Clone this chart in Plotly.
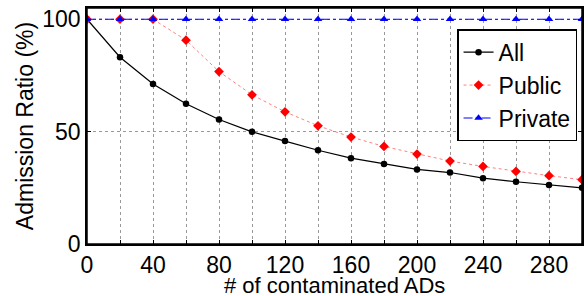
import plotly.graph_objects as go

x_vals = [0, 20, 40, 60, 80, 100, 120, 140, 160, 180, 200, 220, 240, 260, 280, 300]
all_vals = [100, 83.1, 71.2, 62.4, 55.4, 49.9, 45.8, 41.7, 38.2, 35.6, 33.2, 31.8, 29.3, 27.7, 26.2, 25.0]
public_vals = [100, 100, 100, 90.7, 76.7, 66.4, 58.8, 52.6, 47.6, 43.4, 40.0, 36.9, 34.5, 32.3, 30.4, 28.6]
private_vals = [100] * 16
x_ticks = [0, 40, 80, 120, 160, 200, 240, 280]
y_ticks = [0, 50, 100]
x_title = "# of contaminated ADs"
y_title = "Admission Ratio (%)"

FONT = "Liberation Sans, Arial, sans-serif"
FS = 23

fig = go.Figure()
fig.add_trace(go.Scatter(x=x_vals, y=all_vals, name="All", mode="lines+markers",
                         line=dict(color="black", width=1.2),
                         marker=dict(symbol="circle", size=6.5, color="black")))
fig.add_trace(go.Scatter(x=x_vals, y=public_vals, name="Public", mode="lines+markers",
                         line=dict(color="#ff8080", width=1, dash="dot"),
                         marker=dict(symbol="diamond", size=7.5, color="red")))
fig.add_trace(go.Scatter(x=x_vals, y=private_vals, name="Private", mode="lines+markers",
                         line=dict(color="blue", width=1.2, dash="dashdot"),
                         marker=dict(symbol="triangle-up", size=7.5, color="blue")))

axis_common = dict(showline=True, linecolor="black", linewidth=1.5, mirror="ticks",
                   ticks="inside", ticklen=4, tickcolor="black", zeroline=False,
                   gridcolor="#999999", griddash="dot", gridwidth=1, automargin=False,
                   ticklabeloverflow="allow",
                   tickfont=dict(size=FS, color="black", family=FONT))

fig.update_xaxes(range=[0, 300], tickvals=x_ticks, showgrid=True,
                 minor=dict(dtick=20, tick0=0, showgrid=True, gridcolor="#999999",
                            griddash="dot", ticks="inside", ticklen=4, tickcolor="black"),
                 **axis_common)
fig.update_yaxes(range=[0, 105], tickvals=y_ticks, showgrid=True,
                 title=dict(text=y_title, font=dict(size=FS, color="black", family=FONT),
                            standoff=2),
                 **axis_common)

fig.add_annotation(text=x_title, xref="paper", yref="paper", x=0.5, y=-0.236,
                   xanchor="center", yanchor="bottom", showarrow=False,
                   font=dict(size=22, color="black", family=FONT))

fig.add_shape(type="rect", xref="paper", yref="paper", x0=0, x1=1, y0=0, y1=1,
              line=dict(color="black", width=1.5), layer="above")

fig.update_layout(
    width=588, height=296,
    margin=dict(l=87, r=6, t=8, b=52),
    plot_bgcolor="white", paper_bgcolor="white",
    font=dict(family=FONT, color="black"),
    legend=dict(x=0.99, y=0.91, xanchor="right", yanchor="top",
                bordercolor="black", borderwidth=1.5, bgcolor="white",
                font=dict(size=23, color="black", family=FONT),
                tracegroupgap=0, itemwidth=30),
    showlegend=True,
)

fig.write_html("out.html", config={"displayModeBar": False},
               post_script="document.body.style.margin='0';document.body.style.overflow='hidden';")
